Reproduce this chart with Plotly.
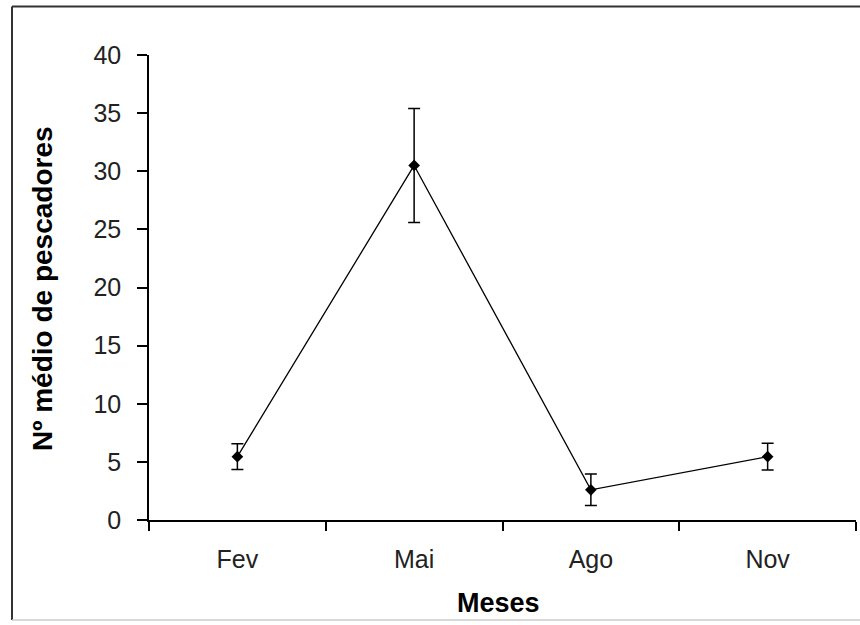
import plotly.graph_objects as go

months = ["Fev", "Mai", "Ago", "Nov"]
mean_fishers = [5.45, 30.5, 2.6, 5.45]
err_fishers = [1.1, 4.9, 1.35, 1.15]
y_ticks = [0, 5, 10, 15, 20, 25, 30, 35, 40]

W, H = 860, 625
ML, MR, MT, MB = 149, 4, 55, 105
PW, PH = W - ML - MR, H - MT - MB

def px2paper_x(px):
    return (px - ML) / PW

def px2paper_y(py):
    return (H - MB - py) / PH

FONT = "Liberation Sans, Arial, sans-serif"

fig = go.Figure()
fig.add_trace(go.Scatter(
    x=months, y=mean_fishers,
    mode="lines+markers",
    line=dict(color="black", width=1.3),
    marker=dict(symbol="diamond", size=9, color="black"),
    error_y=dict(type="data", array=err_fishers, visible=True,
                 color="black", thickness=1.5, width=6),
    showlegend=False,
))

fig.update_layout(
    width=W, height=H,
    margin=dict(l=ML, r=MR, t=MT, b=MB, autoexpand=False),
    paper_bgcolor="white", plot_bgcolor="white",
    font=dict(family=FONT, color="#111111", size=25),
    xaxis=dict(
        type="category", range=[-0.5, 3.5],
        showline=True, linecolor="black", linewidth=1.5,
        ticks="outside", tickson="boundaries", ticklen=9, tickwidth=1.5, tickcolor="black",
        showgrid=False, zeroline=False,
        tickfont=dict(family=FONT, size=25, color="#222222"),
        ticklabelstandoff=16,
    ),
    yaxis=dict(
        range=[0, 40], tickvals=y_ticks,
        showline=True, linecolor="black", linewidth=1.5,
        ticks="outside", ticklen=10, tickwidth=1.5, tickcolor="black",
        showgrid=False, zeroline=False,
        tickfont=dict(family=FONT, size=25, color="#222222"),
        ticklabelstandoff=11,
    ),
    annotations=[
        dict(text="<b>Nº médio de pescadores</b>", xref="paper", yref="paper",
             x=px2paper_x(42), y=px2paper_y(289), xanchor="center", yanchor="middle",
             textangle=-90, showarrow=False,
             font=dict(family=FONT, size=28, color="black")),
        dict(text="<b>Meses</b>", xref="paper", yref="paper",
             x=px2paper_x(498), y=px2paper_y(603), xanchor="center", yanchor="middle",
             showarrow=False,
             font=dict(family=FONT, size=27, color="black")),
    ],
    shapes=[
        dict(type="line", xref="paper", yref="paper",
             x0=px2paper_x(12), x1=px2paper_x(862), y0=px2paper_y(6.5), y1=px2paper_y(6.5),
             line=dict(color="#333333", width=2)),
        dict(type="line", xref="paper", yref="paper",
             x0=px2paper_x(12), x1=px2paper_x(12), y0=px2paper_y(6.5), y1=px2paper_y(620),
             line=dict(color="#333333", width=2)),
        dict(type="line", xref="paper", yref="paper",
             x0=px2paper_x(12), x1=px2paper_x(862), y0=px2paper_y(620), y1=px2paper_y(620),
             line=dict(color="#cccccc", width=1.5)),
    ],
)

fig.write_html("out.html",
               config={"displayModeBar": False},
               post_script="document.body.style.margin='0';document.body.style.overflow='hidden';")
